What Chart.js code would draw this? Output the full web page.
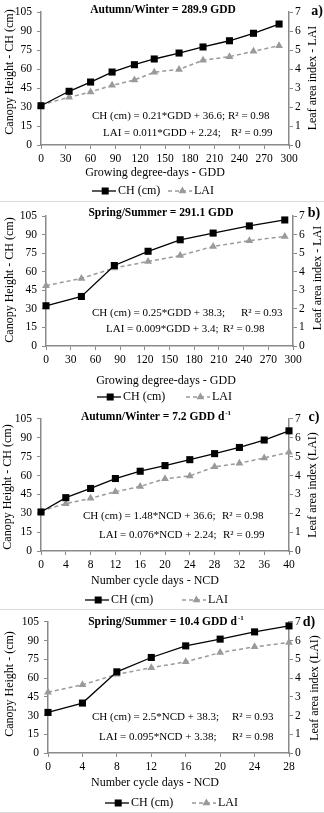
<!DOCTYPE html>
<html>
<head>
<meta charset="utf-8">
<script src="https://cdn.jsdelivr.net/npm/chart.js@4.4.1/dist/chart.umd.min.js"></script>
<style>
  html, body { margin: 0; padding: 0; background: #fff; }
  body { width: 324px; height: 813px; position: relative; overflow: hidden; }
  .panel { position: absolute; left: 0; width: 324px; }
  .sep { position: absolute; left: 0; width: 324px; height: 1px; background: #dadada; }
</style>
</head>
<body>
<div class="panel" style="top:0px;height:201px"><canvas id="chA" width="324" height="201"></canvas></div>
<div class="sep" style="top:201px"></div>
<div class="panel" style="top:202px;height:205px"><canvas id="chB" width="324" height="205"></canvas></div>
<div class="panel" style="top:407px;height:202px"><canvas id="chC" width="324" height="202"></canvas></div>
<div class="sep" style="top:609px"></div>
<div class="panel" style="top:610px;height:203px"><canvas id="chD" width="324" height="203"></canvas></div>
<div class="sep" style="top:812px"></div>
<script>
// Autumn/Winter cycle (panels a and c)
const awGdd = [0, 34, 60, 86, 113, 137, 167, 196, 228, 257, 288]
const awNcd = [0, 4, 8, 12, 16, 20, 24, 28, 32, 36, 40]
const awCh = [31, 42.4, 49.7, 57.6, 63.4, 67.9, 72.6, 77.4, 82.3, 88.2, 95.5]
const awLai = [2.12, 2.51, 2.79, 3.14, 3.42, 3.83, 3.98, 4.46, 4.65, 4.93, 5.23]

// Spring/Summer cycle (panels b and d)
const ssGdd = [0, 43, 83, 124, 163, 203, 247, 290]
const ssNcd = [0, 4, 8, 12, 16, 20, 24, 28]
const ssCh = [32.5, 40, 65, 76.5, 85.8, 91.2, 97, 101.8]
const ssLai = [3.25, 3.64, 4.2, 4.55, 4.87, 5.36, 5.67, 5.9]

// Tick labels
const chTicks = [0, 15, 30, 45, 60, 75, 90, 105]
const laiTicks = [0, 1, 2, 3, 4, 5, 6, 7]
const gddTicks = [0, 30, 60, 90, 120, 150, 180, 210, 240, 270, 300]
const ncdTicks40 = [0, 4, 8, 12, 16, 20, 24, 28, 32, 36, 40]
const ncdTicks28 = [0, 4, 8, 12, 16, 20, 24, 28]

const SERIF = "'Liberation Serif', 'Times New Roman', serif"
const AXIS = '#8a8a8a'
const LAI_COLOR = '#9a9a9a'

Chart.defaults.font.family = SERIF
Chart.defaults.font.size = 11.5
Chart.defaults.color = '#000'

const panels = [
  {
    id: 'chA', h: 201, plotTop: 12, plotBottom: 145, plotLeft: 41, plotRight: 289,
    xs: awGdd, ch: awCh, lai: awLai, xTicks: gddTicks,
    title: { text: 'Autumn/Winter = 289.9 GDD', x: 163, y: 10 },
    tag: { text: 'a)', x: 317, y: 11 },
    yTitle: { text: 'Canopy Height - CH (cm)', x: 10, y: 72 },
    y1Title: { text: 'Leaf area index - LAI', x: 313, y: 78 },
    xTitle: { text: 'Growing degree-days - GDD', x: 155, y: 173 },
    eq: [['CH (cm) = 0.21*GDD + 36.6;', 92, 116], ['R² = 0.98', 228, 116],
         ['LAI = 0.011*GDD + 2.24;', 103, 133], ['R² = 0.99', 231, 133]],
    legend: { y: 191, chX: 92, laiX: 168 }
  },
  {
    id: 'chB', h: 205, plotTop: 14, plotBottom: 144, plotLeft: 46, plotRight: 293,
    xs: ssGdd, ch: ssCh, lai: ssLai, xTicks: gddTicks,
    title: { text: 'Spring/Summer = 291.1 GDD', x: 161, y: 11 },
    tag: { text: 'b)', x: 314, y: 11 },
    yTitle: { text: 'Canopy Height - CH (cm)', x: 10, y: 78 },
    y1Title: { text: 'Leaf area index - LAI', x: 318, y: 76 },
    xTitle: { text: 'Growing degree-days - GDD', x: 166, y: 179 },
    eq: [['CH (cm) = 0.25*GDD + 38.3;', 92, 111], ['R² = 0.93', 241, 111],
         ['LAI = 0.009*GDD + 3.4;', 106, 127], ['R² = 0.98', 223, 127]],
    legend: { y: 195, chX: 97, laiX: 186 }
  },
  {
    id: 'chC', h: 202, plotTop: 10, plotBottom: 144, plotLeft: 41, plotRight: 289,
    xs: awNcd, ch: awCh, lai: awLai, xTicks: ncdTicks40,
    title: { text: 'Autumn/Winter = 7.2 GDD d', sup: '-1', x: 156, y: 10 },
    tag: { text: 'c)', x: 314, y: 10 },
    yTitle: { text: 'Canopy Height - CH (cm)', x: 8, y: 80 },
    y1Title: { text: 'Leaf area index (LAI)', x: 313, y: 78 },
    xTitle: { text: 'Number cycle days - NCD', x: 155, y: 174 },
    eq: [['CH (cm) = 1.48*NCD + 36.6;', 83, 109], ['R² = 0.98', 222, 109],
         ['LAI = 0.076*NCD + 2.24;', 99, 128], ['R² = 0.99', 223, 128]],
    legend: { y: 193, chX: 85, laiX: 182 }
  },
  {
    id: 'chD', h: 203, plotTop: 11, plotBottom: 143, plotLeft: 48, plotRight: 289,
    xs: ssNcd, ch: ssCh, lai: ssLai, xTicks: ncdTicks28,
    title: { text: 'Spring/Summer = 10.4 GDD d', sup: '-1', x: 166, y: 12 },
    tag: { text: 'd)', x: 309, y: 12 },
    yTitle: { text: 'Canopy Height - (cm)', x: 10, y: 74 },
    y1Title: { text: 'Leaf area index (LAI)', x: 315, y: 78 },
    xTitle: { text: 'Number cycle days - NCD', x: 155, y: 173 },
    eq: [['CH (cm) = 2.5*NCD + 38.3;', 92, 107], ['R² = 0.93', 232, 107],
         ['LAI = 0.095*NCD + 3.38;', 99, 127], ['R² = 0.98', 232, 127]],
    legend: { y: 193, chX: 105, laiX: 192 }
  }
]

function vText(ctx, t, x, y) {
  ctx.save()
  ctx.translate(x, y)
  ctx.rotate(-Math.PI / 2)
  ctx.textAlign = 'center'
  ctx.fillText(t, 0, 0)
  ctx.restore()
}

function triangle(ctx, x, y, r) {
  ctx.beginPath()
  ctx.moveTo(x, y - r)
  ctx.lineTo(x + r * 0.866, y + r * 0.5)
  ctx.lineTo(x - r * 0.866, y + r * 0.5)
  ctx.closePath()
  ctx.fill()
}

// texts, equations and legend for one panel
function panelText(p) {
  return {
    id: 'panelText',
    afterDraw(chart) {
      const ctx = chart.ctx
      ctx.save()
      ctx.fillStyle = '#000'
      ctx.textBaseline = 'middle'

      // bold title with optional superscript
      ctx.font = 'bold 11.5px ' + SERIF
      const mainW = ctx.measureText(p.title.text).width
      let supW = 0
      if (p.title.sup) {
        ctx.font = 'bold 7px ' + SERIF
        supW = ctx.measureText(p.title.sup).width + 1
      }
      const x0 = p.title.x - (mainW + supW) / 2
      ctx.font = 'bold 11.5px ' + SERIF
      ctx.textAlign = 'left'
      ctx.fillText(p.title.text, x0, p.title.y)
      if (p.title.sup) {
        ctx.font = 'bold 7px ' + SERIF
        ctx.fillText(p.title.sup, x0 + mainW + 1, p.title.y - 4)
      }

      ctx.font = 'bold 14px ' + SERIF
      ctx.textAlign = 'center'
      ctx.fillText(p.tag.text, p.tag.x, p.tag.y)

      ctx.font = '12px ' + SERIF
      vText(ctx, p.yTitle.text, p.yTitle.x, p.yTitle.y)
      vText(ctx, p.y1Title.text, p.y1Title.x, p.y1Title.y)
      ctx.textAlign = 'center'
      ctx.fillText(p.xTitle.text, p.xTitle.x, p.xTitle.y)

      ctx.font = '11px ' + SERIF
      ctx.textAlign = 'left'
      p.eq.forEach(([t, x, y]) => ctx.fillText(t, x, y))

      // legend
      ctx.font = '12px ' + SERIF
      const lg = p.legend
      const len = 24
      ctx.setLineDash([])
      ctx.strokeStyle = '#000'
      ctx.lineWidth = 1.3
      ctx.beginPath()
      ctx.moveTo(lg.chX, lg.y)
      ctx.lineTo(lg.chX + len, lg.y)
      ctx.stroke()
      ctx.fillRect(lg.chX + len * 0.55 - 3.5, lg.y - 3.5, 7, 7)
      ctx.fillText('CH (cm)', lg.chX + len + 2, lg.y)

      ctx.strokeStyle = LAI_COLOR
      ctx.lineWidth = 1.5
      ctx.setLineDash([4, 3])
      ctx.beginPath()
      ctx.moveTo(lg.laiX, lg.y)
      ctx.lineTo(lg.laiX + len, lg.y)
      ctx.stroke()
      ctx.setLineDash([])
      ctx.fillStyle = LAI_COLOR
      triangle(ctx, lg.laiX + len * 0.6, lg.y, 4.5)
      ctx.fillStyle = '#000'
      ctx.fillText('LAI', lg.laiX + len + 2, lg.y)
      ctx.restore()
    }
  }
}

function tickSetter(list) {
  return scale => { scale.ticks = list.map(v => ({ value: v })) }
}

function axisGrid() {
  return { drawOnChartArea: false, drawTicks: true, tickLength: 4, color: AXIS, lineWidth: 1 }
}

panels.forEach(p => {
  const ctx = document.getElementById(p.id).getContext('2d')
  new Chart(ctx, {
    type: 'line',
    data: {
      datasets: [
        {
          label: 'CH (cm)',
          data: p.xs.map((x, i) => ({ x: x, y: p.ch[i] })),
          yAxisID: 'y',
          borderColor: '#000',
          backgroundColor: '#000',
          borderWidth: 1.3,
          pointStyle: 'rect',
          pointRadius: 5,
          pointBorderWidth: 0,
          pointBackgroundColor: '#000',
          tension: 0,
          clip: false
        },
        {
          label: 'LAI',
          data: p.xs.map((x, i) => ({ x: x, y: p.lai[i] })),
          yAxisID: 'y1',
          borderColor: LAI_COLOR,
          backgroundColor: LAI_COLOR,
          borderWidth: 1.5,
          borderDash: [4, 3],
          pointStyle: 'triangle',
          pointRadius: 4.5,
          pointBorderWidth: 0,
          pointBackgroundColor: LAI_COLOR,
          tension: 0,
          clip: false
        }
      ]
    },
    options: {
      responsive: false,
      animation: false,
      devicePixelRatio: 1,
      layout: { padding: { top: p.plotTop, left: 0, right: 0, bottom: 0 } },
      plugins: {
        legend: { display: false },
        tooltip: { enabled: false }
      },
      scales: {
        x: {
          type: 'linear',
          min: p.xTicks[0],
          max: p.xTicks[p.xTicks.length - 1],
          afterBuildTicks: tickSetter(p.xTicks),
          afterFit: scale => { scale.height = p.h - p.plotBottom },
          border: { color: AXIS, width: 1.5 },
          grid: axisGrid(),
          ticks: { padding: 3, maxRotation: 0, autoSkip: false, color: '#000', font: { size: 11.5 } }
        },
        y: {
          position: 'left',
          min: chTicks[0],
          max: chTicks[chTicks.length - 1],
          afterBuildTicks: tickSetter(chTicks),
          afterFit: scale => { scale.width = p.plotLeft },
          border: { color: AXIS, width: 1.5 },
          grid: axisGrid(),
          ticks: { padding: 5, color: '#000', font: { size: 11.5 } }
        },
        y1: {
          position: 'right',
          min: laiTicks[0],
          max: laiTicks[laiTicks.length - 1],
          afterBuildTicks: tickSetter(laiTicks),
          afterFit: scale => { scale.width = 324 - p.plotRight },
          border: { color: AXIS, width: 1.5 },
          grid: axisGrid(),
          ticks: { padding: 2, color: '#000', font: { size: 11.5 } }
        }
      }
    },
    plugins: [panelText(p)]
  })
})
</script>
</body>
</html>
